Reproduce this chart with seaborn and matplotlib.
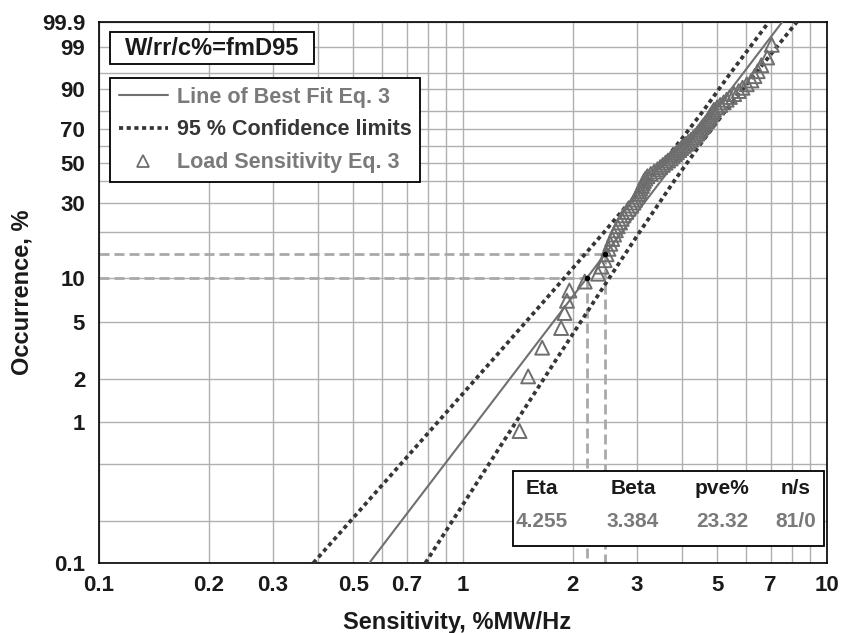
import numpy as np
import matplotlib
matplotlib.use("Agg")  # no display
import matplotlib.pyplot as plt
from matplotlib.lines import Line2D
from matplotlib.patches import Rectangle
from matplotlib.ticker import FixedLocator, FixedFormatter, NullFormatter
import seaborn as sns

# ── Data ──────────────────────────────────────────────────────────────────
ETA = 4.255
BETA = 3.384
PVE = 23.32
N_FAIL, N_SUSP = 81, 0

# load sensitivity, sorted ascending (%MW/Hz)
sensitivity = [
    1.43, 1.51, 1.65, 1.86, 1.90, 1.93, 1.96, 2.16, 2.35, 2.40, 2.45, 2.48,
    2.51, 2.54, 2.57, 2.60, 2.63, 2.66, 2.70, 2.73, 2.76, 2.81,
    2.85, 2.90, 2.94, 2.97, 3.00, 3.03, 3.05, 3.07, 3.10, 3.12,
    3.14, 3.17, 3.21, 3.28, 3.35, 3.42, 3.48, 3.54, 3.60, 3.66,
    3.72, 3.77, 3.82, 3.87, 3.93, 3.98, 4.04, 4.10, 4.16, 4.23,
    4.29, 4.35, 4.40, 4.44, 4.49, 4.53, 4.58, 4.63, 4.68, 4.72,
    4.76, 4.80, 4.85, 4.89, 4.99, 5.09, 5.20, 5.30, 5.41, 5.56,
    5.72, 5.86, 6.02, 6.20, 6.32, 6.45, 6.60, 6.85, 7.05,
]

# 95 % confidence limits (x at given occurrence %)
conf_pct = [0.1, 1, 3, 10, 20, 40, 63.2, 80, 95, 99.9]
conf_lower = [0.388, 0.854, 1.246, 1.898, 2.442, 3.206, 3.961, 4.564, 5.43, 6.92]
conf_upper = [0.788, 1.399, 1.845, 2.522, 3.055, 3.795, 4.570, 5.254, 6.37, 8.26]

# reference (B-life) levels marked with dashed lines
ref_pct = [10, 14.5]

fit_pct = [0.1, 99.9]

x_ticks = [0.1, 0.2, 0.3, 0.5, 0.7, 1, 2, 3, 5, 7, 10]
x_ticklabels = ["0.1", "0.2", "0.3", "0.5", "0.7", "1", "2", "3", "5", "7", "10"]
x_minor = [0.4, 0.6, 0.8, 0.9, 4, 6, 8, 9]
y_ticks = [0.1, 1, 2, 5, 10, 30, 50, 70, 90, 99, 99.9]
y_ticklabels = ["0.1", "1", "2", "5", "10", "30", "50", "70", "90", "99", "99.9"]
y_minor = [0.2, 0.5, 20, 40, 60, 80, 95]

table_head = ["Eta", "Beta", "pve%", "n/s"]
table_vals = [f"{ETA:.3f}", f"{BETA:.3f}", f"{PVE:.2f}", f"{N_FAIL}/{N_SUSP}"]

# ── Colours ────────────────────────────────────────────────────────────────
GRID = "#b0b0b0"
FIT = "#707070"
CONF = "#363636"
POINT = "#6e6e6e"
REF = "#a9a9a9"
TXT = "#1a1a1a"


def weibull_fwd(p):
    p = np.clip(np.asarray(p, dtype=float), 1e-9, 100 - 1e-9)
    return np.log(-np.log(1 - p / 100))


def weibull_inv(y):
    return 100 * (1 - np.exp(-np.exp(y)))


def life_at(p):
    p = np.asarray(p, dtype=float)
    return ETA * (-np.log(1 - p / 100)) ** (1 / BETA)


sns.set_theme(style="white")
plt.rcParams["font.family"] = ["Liberation Sans", "DejaVu Sans"]
plt.rcParams["font.weight"] = "bold"

fig = plt.figure(figsize=(8.42, 6.33), dpi=100)
ax = fig.add_axes([0.1176, 0.1106, 0.8646, 0.8546])
ax.set_xscale("log")
ax.set_yscale("function", functions=(weibull_fwd, weibull_inv))

# median ranks (Bernard)
n = len(sensitivity)
rank_pct = (np.arange(1, n + 1) - 0.3) / (n + 0.4) * 100

# ── Reference dashed lines ────────────────────────────────────────────────
for p in ref_pct:
    xr = float(life_at(p))
    ax.plot([0.1, xr], [p, p], color=REF, lw=2, ls=(0, (3.6, 1.8)), zorder=2)
    ax.plot([xr, xr], [p, 0.1], color=REF, lw=2, ls=(0, (3.6, 1.8)), zorder=2)
    ax.plot([xr], [p], "o", color="black", ms=3, zorder=6)

# ── Lines and points ──────────────────────────────────────────────────────
sns.lineplot(x=life_at(fit_pct), y=fit_pct, ax=ax, color=FIT, lw=1.5,
             sort=False, estimator=None, zorder=4)
for xs in (conf_lower, conf_upper):
    sns.lineplot(x=xs, y=conf_pct, ax=ax, color=CONF, lw=2.7,
                 ls=(0, (1.1, 0.95)), sort=False, estimator=None, zorder=4)
sns.scatterplot(x=sensitivity, y=rank_pct, ax=ax, marker="^", s=100,
                facecolors="none", edgecolor=POINT, linewidth=1.4, zorder=5)

ax.set_xlim(0.1, 10)
ax.set_ylim(0.1, 99.9)

# ── Ticks and grid ────────────────────────────────────────────────────────
ax.xaxis.set_major_locator(FixedLocator(x_ticks))
ax.xaxis.set_major_formatter(FixedFormatter(x_ticklabels))
ax.xaxis.set_minor_locator(FixedLocator(x_minor))
ax.xaxis.set_minor_formatter(NullFormatter())
ax.yaxis.set_major_locator(FixedLocator(y_ticks))
ax.yaxis.set_major_formatter(FixedFormatter(y_ticklabels))
ax.yaxis.set_minor_locator(FixedLocator(y_minor))
ax.yaxis.set_minor_formatter(NullFormatter())

ax.grid(True, which="both", color=GRID, lw=1.0, zorder=0)
ax.tick_params(which="both", direction="out", length=5, width=1.0,
               color=GRID, labelsize=16, labelcolor=TXT)
ax.tick_params(axis="x", pad=4)
ax.tick_params(axis="y", pad=5)
ax.set_axisbelow(True)
for s in ax.spines.values():
    s.set_color("black")
    s.set_linewidth(1.2)
    s.set_visible(True)

ax.set_xlabel("Sensitivity, %MW/Hz", fontsize=17, fontweight="bold", color=TXT)
ax.set_ylabel("Occurrence, %", fontsize=17, fontweight="bold", color=TXT)
ax.xaxis.set_label_coords(0.492, -0.088)
ax.yaxis.set_label_coords(-0.09, 0.5)

# ── Legend ────────────────────────────────────────────────────────────────
handles = [
    Line2D([], [], color=FIT, lw=1.5),
    Line2D([], [], color=CONF, lw=2.7, ls=(0, (1.1, 0.95))),
    Line2D([], [], ls="none", marker="^", ms=8, mfc="none", mec=POINT, mew=1.3),
]
labels = ["Line of Best Fit Eq. 3", "95 % Confidence limits",
          "Load Sensitivity Eq. 3"]
leg = ax.legend(handles, labels, loc="upper left",
                bbox_to_anchor=(0.0151, 0.8965), borderaxespad=0,
                fontsize=15.5, frameon=True, fancybox=False, framealpha=1,
                edgecolor="black", handlelength=2.3, handletextpad=0.4,
                labelspacing=0.55, borderpad=0.4)
leg.get_frame().set_linewidth(1.3)
for txt, c in zip(leg.get_texts(), ["#7a7a7a", "#363636", "#7a7a7a"]):
    txt.set_color(c)
    txt.set_fontweight("bold")
leg.set_zorder(10)

# ── Title box ─────────────────────────────────────────────────────────────
ax.add_patch(Rectangle((0.0151, 0.9224), 0.2802, 0.0591, transform=ax.transAxes,
                       fc="white", ec="black", lw=1.3, zorder=10))
ax.text(0.0151 + 0.2802 / 2, 0.9224 + 0.0591 / 2, "W/rr/c%=fmD95",
        transform=ax.transAxes, ha="center", va="center", fontsize=17,
        fontweight="bold", color=TXT, zorder=11)

# ── Parameter table ───────────────────────────────────────────────────────
ax.add_patch(Rectangle((0.5683, 0.0314), 0.4276, 0.1386, transform=ax.transAxes,
                       fc="white", ec="black", lw=1.3, zorder=10))
col_x = [0.608, 0.7335, 0.8558, 0.9574]
for cx, head, val in zip(col_x, table_head, table_vals):
    ax.text(cx, 0.1386, head, transform=ax.transAxes, ha="center",
            va="center", fontsize=15, fontweight="bold", color=TXT, zorder=11)
    ax.text(cx, 0.0763, val, transform=ax.transAxes, ha="center",
            va="center", fontsize=15, fontweight="bold", color="#7a7a7a",
            zorder=11)

fig.savefig("out.png", dpi=100)
plt.close(fig)
